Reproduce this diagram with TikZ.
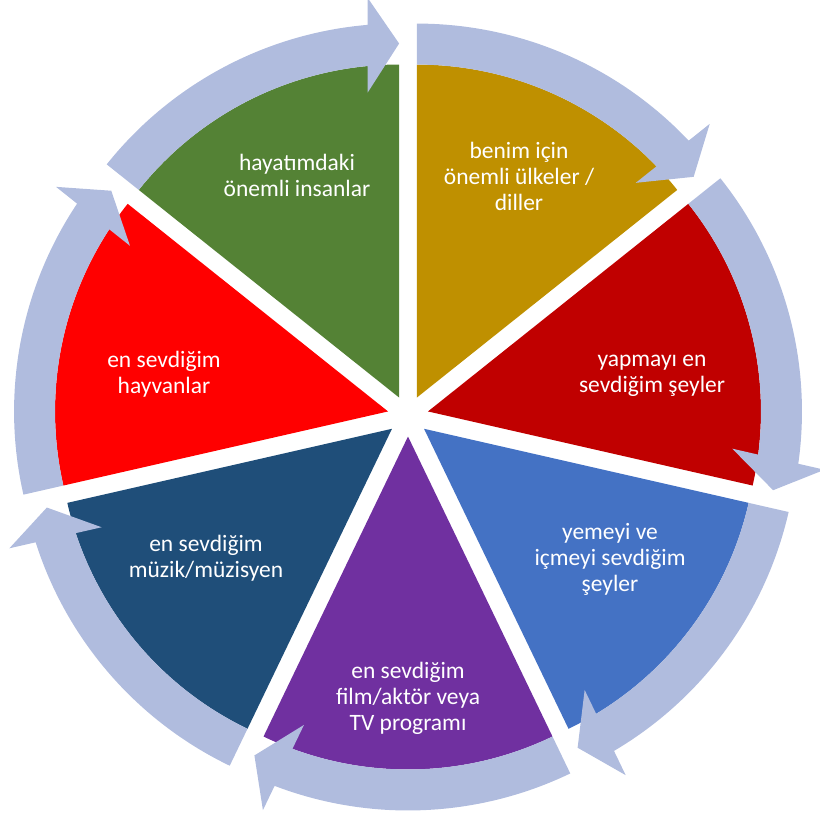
\documentclass[tikz,border=0pt]{standalone}
\usepackage{fontspec}
\setmainfont{Carlito}
\definecolor{segGold}{RGB}{191,144,0}
\definecolor{segDarkRed}{RGB}{192,0,0}
\definecolor{segBlue}{RGB}{68,114,196}
\definecolor{segPurple}{RGB}{112,48,160}
\definecolor{segNavy}{RGB}{31,78,121}
\definecolor{segRed}{RGB}{255,0,0}
\definecolor{segGreen}{RGB}{84,130,53}
\definecolor{cycleArrow}{RGB}{176,188,222}

\begin{document}
\begin{tikzpicture}[x=0.025cm, y=0.025cm, line join=round,
    segtext/.style={text=white, align=center, font=\fontsize{16.7}{18.5}\selectfont}]

\useasboundingbox (0,0) rectangle (820,818);

% Pie centre and sizes ------------------------------
\coordinate (O) at (408,402);
\pgfmathsetmacro{\push}{20.5}
\pgfmathsetmacro{\rin}{333}
\pgfmathsetmacro{\rout}{374}
\pgfmathsetmacro{\rmid}{354}
\pgfmathsetmacro{\hoff}{31.4}
\pgfmathsetmacro{\hin}{305}
\pgfmathsetmacro{\hout}{399.6}
\pgfmathsetmacro{\ai}{90+asin(\hoff/\rin)}
\pgfmathsetmacro{\ao}{90+asin(\hoff/\rout)}

% Segments, each pushed out along its middle, with its arrow
\foreach \bis/\col in {64.286/segGold, 12.857/segDarkRed, -38.571/segBlue,
    -90/segPurple, -141.429/segNavy, 167.143/segRed, 115.714/segGreen} {
  \begin{scope}[shift={(O)}, shift={(\bis:\push)}]
    \fill[\col] (0,0) -- (\bis+25.714:\rin)
        arc[start angle=\bis+25.714, end angle=\bis-25.714, radius=\rin] -- cycle;
    % START ARROW ---------------------------------
    \begin{scope}[rotate=\bis-115.714]
      \fill[cycleArrow] (141.429:\rout)
          arc[start angle=141.429, end angle=\ao, radius=\rout]
          -- (-\hoff,\hout) -- (0,\rmid) -- (-\hoff,\hin)
          -- (\ai:\rin)
          arc[start angle=\ai, end angle=141.429, radius=\rin] -- cycle;
    \end{scope}
  \end{scope}
}

% Texts
\node[segtext] (gold) at (519,642) {benim için\\önemli ülkeler /\\diller};
\node[segtext] (darkred) at (652,442.5) {yapmayı en\\sevdiğim şeyler};
\node[segtext] (blue) at (610,259) {yemeyi ve\\içmeyi sevdiğim\\şeyler};
\node[segtext] (purple) at (408,119.5) {en sevdiğim\\film/aktör veya\\TV programı};
\node[segtext] (navy) at (206,260) {en sevdiğim\\müzik/müzisyen};
\node[segtext] (red) at (164,444) {en sevdiğim\\hayvanlar};
\node[segtext] (green) at (297,642.5) {hayatımdaki\\önemli insanlar};

\end{tikzpicture}
\end{document}
